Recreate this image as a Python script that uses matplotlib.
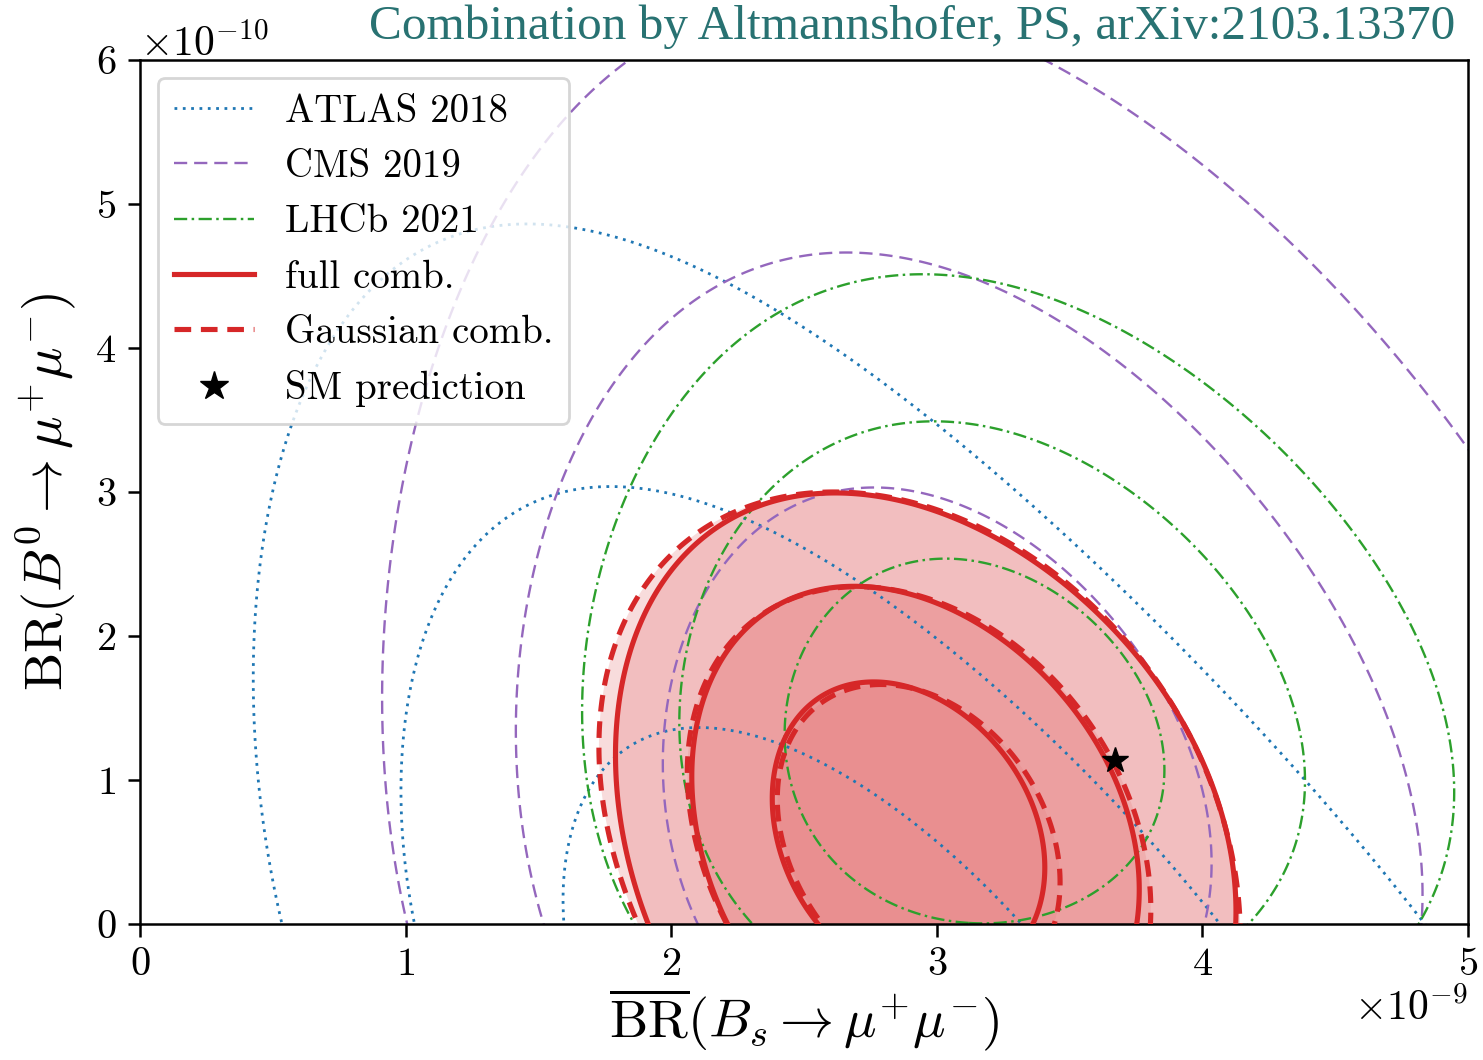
import numpy as np
import matplotlib
matplotlib.use('Agg')
import matplotlib.pyplot as plt
from matplotlib.lines import Line2D

# ---------------- data ----------------
# Bs in units of 1e-9, Bd in units of 1e-10
chi2_levels = [2.30, 6.18, 11.83]          # 1, 2, 3 sigma (2 d.o.f.)

experiments   = ['ATLAS 2018', 'CMS 2019', 'LHCb 2021']
exp_center_bs = [2.652, 2.931, 3.103]
exp_center_bd = [-0.948, 0.764, 1.194]
exp_sigma_bs  = [0.745, 0.678, 0.470]
exp_skew_bs   = [0.044, 0.045, 0.036]
exp_sigma_bd  = [1.416, 1.393, 0.832]
exp_skew_bd   = [0.047, 0.045, 0.040]
exp_rho       = [-0.501, -0.164, -0.098]

combinations   = ['full comb.', 'Gaussian comb.']
comb_center_bs = [2.878, 2.931]
comb_center_bd = [0.632, 0.580]
comb_sigma_bs  = [0.338, 0.351]
comb_skew_bs   = [0.020, 0.001]
comb_sigma_bd  = [0.696, 0.723]
comb_skew_bd   = [-0.004, -0.008]
comb_rho       = [-0.227, -0.264]

sm_bs = [3.67]
sm_bd = [1.14]

x_ticks = [0, 1, 2, 3, 4, 5]
y_ticks = [0, 1, 2, 3, 4, 5, 6]
title = 'Combination by Altmannshofer, PS, arXiv:2103.13370'

# ---------------- style ----------------
plt.rcParams['font.family'] = ['cmr10', 'DejaVu Serif']
plt.rcParams['mathtext.fontset'] = 'cm'
plt.rcParams['axes.formatter.use_mathtext'] = True
plt.rcParams['axes.unicode_minus'] = False
plt.rcParams['lines.scale_dashes'] = False

exp_colors = ['#1f77b4', '#9467bd', '#2ca02c']
exp_styles = [(0, (2.0, 4.0)), (0, (9.5, 5.0)), (0, (9.5, 3.2, 1.8, 3.2))]
exp_lw = [2.0, 1.7, 1.7]
red = '#d62728'
comb_styles = ['solid', (0, (12, 7))]
band_alpha = [0.30, 0.25, 0.16]


def chi2(bs, bd, mx, my, sx, ax_, sy, ay, rho):
    dx = bs - mx
    dy = bd - my
    u = dx / np.maximum(sx + ax_ * dx, 0.05 * sx)
    v = dy / np.maximum(sy + ay * dy, 0.05 * sy)
    return (u * u - 2 * rho * u * v + v * v) / (1 - rho * rho)


fig = plt.figure(figsize=(14.83, 10.6), dpi=100)
ax = fig.add_axes([140 / 1483, 1 - 924 / 1060, 1328 / 1483, 864 / 1060])

gbs = np.linspace(-0.2, 5.3, 700)
gbd = np.linspace(-0.6, 6.6, 700)
GBS, GBD = np.meshgrid(gbs, gbd)
XS, YS = GBS * 1e-9, GBD * 1e-10

# combination fills
for i in range(len(combinations)):
    Z = chi2(GBS, GBD, comb_center_bs[i], comb_center_bd[i], comb_sigma_bs[i],
             comb_skew_bs[i], comb_sigma_bd[i], comb_skew_bd[i], comb_rho[i])
    fcols = [matplotlib.colors.to_rgba(red, a) for a in band_alpha]
    ax.contourf(XS, YS, Z, levels=[0] + chi2_levels, colors=fcols, zorder=1,
                antialiased=True)

# experiments
for i in range(len(experiments)):
    Z = chi2(GBS, GBD, exp_center_bs[i], exp_center_bd[i], exp_sigma_bs[i],
             exp_skew_bs[i], exp_sigma_bd[i], exp_skew_bd[i], exp_rho[i])
    ax.contour(XS, YS, Z, levels=chi2_levels, colors=exp_colors[i],
               linewidths=exp_lw[i], linestyles=[exp_styles[i]], zorder=2)

# combination lines
for i in range(len(combinations)):
    Z = chi2(GBS, GBD, comb_center_bs[i], comb_center_bd[i], comb_sigma_bs[i],
             comb_skew_bs[i], comb_sigma_bd[i], comb_skew_bd[i], comb_rho[i])
    ax.contour(XS, YS, Z, levels=chi2_levels, colors=red, linewidths=3.7,
               linestyles=[comb_styles[i]], zorder=3)

ax.plot(np.array(sm_bs) * 1e-9, np.array(sm_bd) * 1e-10, '*', color='k',
        ms=19, zorder=6)

ax.set_xlim(0, 5e-9)
ax.set_ylim(0, 6e-10)
ax.set_xticks(np.array(x_ticks) * 1e-9)
ax.set_yticks(np.array(y_ticks) * 1e-10)
ax.tick_params(labelsize=29, length=9, width=1.8, pad=8)
ax.xaxis.get_offset_text().set_fontsize(30)
ax.yaxis.get_offset_text().set_fontsize(30)
for s in ax.spines.values():
    s.set_linewidth(1.8)

ax.set_xlabel(r'$\overline{\mathrm{BR}}(B_s\to\mu^{+}\mu^{-})$', fontsize=39, labelpad=2)
ax.set_ylabel(r'$\mathrm{BR}(B^{0}\to\mu^{+}\mu^{-})$', fontsize=39, labelpad=12)

handles = [Line2D([], [], color=exp_colors[i], lw=exp_lw[i], ls=exp_styles[i])
           for i in range(len(experiments))]
handles += [Line2D([], [], color=red, lw=3.7, ls=comb_styles[i])
            for i in range(len(combinations))]
handles += [Line2D([], [], color='k', marker='*', ms=21, ls='none')]
labels = experiments + combinations + ['SM prediction']
leg = ax.legend(handles, labels, loc='upper left', fontsize=28, handlelength=2.05,
                handletextpad=0.8, labelspacing=0.5, borderaxespad=0.45,
                borderpad=0.42, framealpha=0.8, edgecolor='0.8', fancybox=True)
leg.get_frame().set_linewidth(2.0)
leg.set_zorder(10)

fig.text(1455 / 1483, 1 - 27 / 1060, title, ha='right', va='center',
         fontsize=35.5, color='#287272', family='Liberation Serif')

fig.savefig('out.png', dpi=100)
